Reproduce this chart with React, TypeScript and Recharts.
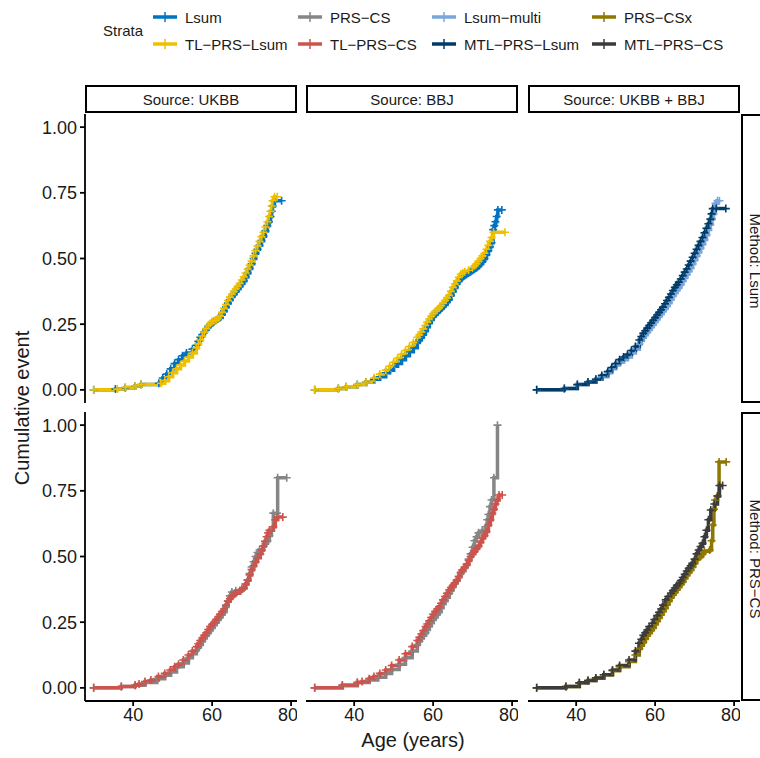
import { LineChart, Line, XAxis, YAxis } from 'recharts'

// ── Data (age in years, cumulative event) ──────────────────────

const ukbbLsum: [number, number][] = [
  [30, 0], [35.5, 0.003], [38, 0.008], [40.5, 0.015], [42, 0.02], [46.5, 0.025], [47.5, 0.045],
  [48.5, 0.06], [49.5, 0.08], [50.5, 0.1], [51.5, 0.115], [52.5, 0.13], [53.5, 0.14], [55, 0.155],
  [56, 0.17], [56.5, 0.185], [57, 0.2], [57.5, 0.21], [58, 0.22], [58.5, 0.23], [59, 0.24], [59.5, 0.248],
  [60, 0.255], [60.5, 0.26], [61, 0.265], [61.5, 0.27], [62, 0.275], [62.5, 0.288], [63, 0.3], [63.5, 0.315],
  [64, 0.33], [64.5, 0.343], [65, 0.355], [65.5, 0.365], [66, 0.375], [66.5, 0.385], [67, 0.395],
  [67.5, 0.405], [68, 0.415], [68.5, 0.43], [69, 0.445], [69.5, 0.462], [70, 0.48], [70.5, 0.5], [71, 0.52],
  [71.5, 0.535], [72, 0.55], [72.5, 0.568], [73, 0.585], [73.5, 0.605], [74, 0.625], [74.4, 0.64],
  [74.8, 0.66], [75.1, 0.68], [75.3, 0.7], [75.8, 0.72], [77.6, 0.72],
]
const ukbbTlLsum: [number, number][] = [
  [30, 0], [36, 0.003], [38, 0.01], [40.5, 0.015], [42, 0.02], [47, 0.025], [48, 0.035], [49, 0.05],
  [50, 0.065], [51, 0.08], [52, 0.095], [53, 0.11], [54, 0.125], [55, 0.14], [56, 0.16], [56.5, 0.175],
  [57, 0.19], [57.5, 0.205], [58, 0.22], [58.5, 0.233], [59, 0.245], [59.5, 0.253], [60, 0.26], [60.5, 0.263],
  [61, 0.265], [61.5, 0.272], [62, 0.28], [62.5, 0.295], [63, 0.31], [63.5, 0.325], [64, 0.34], [64.5, 0.353],
  [65, 0.365], [65.5, 0.375], [66, 0.385], [66.5, 0.395], [67, 0.405], [67.5, 0.418], [68, 0.43],
  [68.5, 0.445], [69, 0.46], [69.5, 0.475], [70, 0.49], [70.5, 0.51], [71, 0.53], [71.5, 0.548], [72, 0.565],
  [72.5, 0.583], [73, 0.6], [73.5, 0.62], [74, 0.64], [74.4, 0.66], [74.8, 0.68], [75.1, 0.7], [75.3, 0.72],
  [75.8, 0.735], [76.5, 0.735],
]
const bbjLsum: [number, number][] = [
  [30, 0], [36, 0.005], [38, 0.012], [40.8, 0.02], [43, 0.03], [45, 0.04], [46.5, 0.05], [48, 0.065],
  [49, 0.075], [50, 0.09], [51, 0.1], [52, 0.115], [53, 0.13], [54, 0.145], [55, 0.16], [56, 0.18],
  [56.5, 0.19], [57, 0.2], [57.5, 0.212], [58, 0.225], [58.5, 0.24], [59, 0.255], [59.5, 0.268], [60, 0.28],
  [60.5, 0.288], [61, 0.295], [61.5, 0.303], [62, 0.31], [62.5, 0.318], [63, 0.325], [63.5, 0.335],
  [64, 0.345], [64.5, 0.36], [65, 0.375], [65.5, 0.39], [66, 0.405], [66.5, 0.415], [67, 0.425],
  [67.5, 0.43], [68, 0.435], [68.5, 0.44], [69, 0.445], [69.5, 0.45], [70, 0.455], [70.5, 0.46],
  [71, 0.465], [71.5, 0.472], [72, 0.48], [72.5, 0.49], [73, 0.5], [73.5, 0.515], [74, 0.53], [74.4, 0.545],
  [74.8, 0.56], [75.2, 0.61], [75.5, 0.625], [75.8, 0.64], [76.1, 0.66], [76.4, 0.685], [77.4, 0.685],
]
const bbjTlLsum: [number, number][] = [
  [30, 0], [36, 0.005], [38, 0.012], [40.8, 0.02], [43, 0.03], [45, 0.045], [46.5, 0.06], [48, 0.075],
  [49, 0.09], [50, 0.105], [51, 0.12], [52, 0.135], [53, 0.15], [54, 0.165], [55, 0.18], [56, 0.2],
  [56.5, 0.21], [57, 0.22], [57.5, 0.232], [58, 0.245], [58.5, 0.258], [59, 0.27], [59.5, 0.28], [60, 0.29],
  [60.5, 0.298], [61, 0.305], [61.5, 0.312], [62, 0.32], [62.5, 0.33], [63, 0.34], [63.5, 0.35], [64, 0.36],
  [64.5, 0.375], [65, 0.39], [65.5, 0.403], [66, 0.415], [66.5, 0.428], [67, 0.44], [67.5, 0.445],
  [68, 0.45], [69, 0.455], [70, 0.465], [70.5, 0.472], [71, 0.48], [71.5, 0.49], [72, 0.5], [72.5, 0.51],
  [73, 0.52], [73.5, 0.535], [74, 0.55], [74.4, 0.565], [74.8, 0.58], [75.3, 0.6], [78.2, 0.6],
]
const bothLsumMulti: [number, number][] = [
  [30, 0], [37, 0.005], [40.3, 0.02], [43, 0.03], [45, 0.04], [46.5, 0.05], [48, 0.065], [49, 0.08],
  [50, 0.095], [51, 0.105], [52, 0.115], [53, 0.125], [54, 0.14], [55, 0.155], [56, 0.175], [56.5, 0.188],
  [57, 0.2], [57.5, 0.21], [58, 0.22], [58.5, 0.23], [59, 0.24], [59.5, 0.25], [60, 0.26], [60.5, 0.27],
  [61, 0.28], [61.5, 0.29], [62, 0.3], [62.5, 0.31], [63, 0.32], [63.5, 0.332], [64, 0.345], [64.5, 0.358],
  [65, 0.37], [65.5, 0.38], [66, 0.39], [66.5, 0.402], [67, 0.415], [67.5, 0.428], [68, 0.44],
  [68.5, 0.452], [69, 0.465], [69.5, 0.48], [70, 0.495], [70.5, 0.51], [71, 0.525], [71.5, 0.54],
  [72, 0.555], [72.5, 0.572], [73, 0.59], [73.5, 0.61], [74, 0.63], [74.4, 0.65], [74.8, 0.67],
  [75.1, 0.69], [75.3, 0.71], [75.8, 0.72], [76.3, 0.72],
]
const bothMtlLsum: [number, number][] = [
  [30, 0], [37, 0.005], [40.3, 0.02], [43, 0.03], [45, 0.04], [46.5, 0.055], [48, 0.07], [49, 0.085],
  [50, 0.1], [51, 0.115], [52, 0.125], [53, 0.135], [54, 0.15], [55, 0.165], [56, 0.19], [56.5, 0.203],
  [57, 0.215], [57.5, 0.225], [58, 0.235], [58.5, 0.245], [59, 0.255], [59.5, 0.265], [60, 0.275],
  [60.5, 0.285], [61, 0.295], [61.5, 0.305], [62, 0.315], [62.5, 0.328], [63, 0.34], [63.5, 0.352],
  [64, 0.365], [64.5, 0.378], [65, 0.39], [65.5, 0.4], [66, 0.41], [66.5, 0.422], [67, 0.435],
  [67.5, 0.448], [68, 0.46], [68.5, 0.475], [69, 0.49], [69.5, 0.505], [70, 0.52], [70.5, 0.535],
  [71, 0.55], [71.5, 0.565], [72, 0.58], [72.5, 0.598], [73, 0.615], [73.5, 0.632], [74, 0.65],
  [74.3, 0.67], [74.6, 0.69], [75.5, 0.69], [77.9, 0.69],
]
const ukbbPrsCs: [number, number][] = [
  [30, 0], [37, 0.005], [40.5, 0.01], [43, 0.02], [46, 0.035], [48, 0.048], [49.5, 0.06], [51, 0.08],
  [52.7, 0.095], [54, 0.115], [55, 0.13], [56, 0.145], [56.5, 0.155], [57, 0.165], [57.5, 0.178],
  [58, 0.19], [58.5, 0.2], [59, 0.21], [59.5, 0.22], [60, 0.23], [60.5, 0.24], [61, 0.25], [61.5, 0.26],
  [62, 0.27], [62.5, 0.28], [63, 0.29], [63.5, 0.31], [64, 0.33], [64.5, 0.35], [65, 0.365], [66, 0.37],
  [67, 0.37], [67.5, 0.375], [68, 0.38], [68.5, 0.395], [69, 0.41], [69.5, 0.435], [70, 0.46],
  [70.5, 0.48], [71, 0.5], [71.5, 0.515], [72, 0.525], [73, 0.54], [73.5, 0.55], [74, 0.56],
  [74.5, 0.58], [75, 0.6], [75.5, 0.665], [76.4, 0.665], [76.6, 0.8], [78.9, 0.8],
]
const ukbbTlPrsCs: [number, number][] = [
  [30, 0], [37, 0.005], [40.5, 0.01], [41.5, 0.015], [43, 0.024], [44.5, 0.03], [46.4, 0.043],
  [48, 0.055], [49.4, 0.068], [50.5, 0.08], [51.5, 0.09], [52.7, 0.106], [54, 0.125], [55, 0.14],
  [56.1, 0.157], [56.5, 0.168], [57, 0.18], [57.5, 0.19], [58, 0.2], [58.5, 0.21], [59, 0.222],
  [59.5, 0.233], [60, 0.242], [60.5, 0.25], [61, 0.26], [61.5, 0.27], [62, 0.28], [62.5, 0.29], [63, 0.3],
  [63.5, 0.315], [64, 0.33], [64.5, 0.34], [65, 0.35], [65.5, 0.355], [66, 0.36], [67, 0.37],
  [67.5, 0.375], [68, 0.38], [68.5, 0.395], [69, 0.41], [69.5, 0.43], [70, 0.45], [70.5, 0.465],
  [71, 0.48], [71.5, 0.495], [72.2, 0.51], [72.6, 0.525], [73, 0.54], [73.4, 0.558], [73.8, 0.575],
  [74.2, 0.59], [74.5, 0.6], [75.5, 0.613], [76, 0.64], [76.6, 0.65], [77.9, 0.65],
]
const bbjPrsCs: [number, number][] = [
  [30, 0], [37, 0.008], [40.8, 0.02], [43.8, 0.03], [46, 0.04], [48, 0.055], [49.5, 0.07], [51.4, 0.09],
  [53, 0.115], [54.7, 0.14], [56, 0.165], [56.5, 0.178], [57, 0.19], [57.5, 0.2], [58.1, 0.21],
  [58.5, 0.222], [59, 0.235], [59.5, 0.248], [60, 0.26], [60.5, 0.27], [61, 0.28], [61.5, 0.29],
  [62, 0.305], [62.5, 0.32], [63, 0.332], [63.5, 0.345], [64.1, 0.36], [64.5, 0.372], [65, 0.385],
  [65.5, 0.398], [66, 0.41], [66.5, 0.422], [67, 0.435], [67.4, 0.445], [68, 0.458], [68.5, 0.47],
  [69, 0.49], [69.5, 0.51], [70, 0.535], [70.5, 0.56], [71, 0.575], [71.5, 0.59], [72.5, 0.6],
  [73.3, 0.613], [73.7, 0.64], [74, 0.66], [74.4, 0.69], [74.8, 0.715], [75.4, 0.8], [76.3, 1.0],
]
const bbjTlPrsCs: [number, number][] = [
  [30, 0], [37, 0.011], [40.8, 0.02], [42, 0.024], [43.8, 0.035], [45, 0.043], [46.5, 0.055],
  [48, 0.068], [49.5, 0.085], [51.4, 0.106], [53, 0.13], [54.7, 0.157], [56, 0.18], [56.5, 0.192],
  [57, 0.205], [57.5, 0.218], [58.1, 0.233], [58.5, 0.243], [59, 0.255], [59.5, 0.268], [60, 0.28],
  [60.5, 0.29], [61, 0.3], [61.5, 0.309], [62, 0.322], [62.5, 0.335], [63, 0.348], [63.5, 0.36],
  [64.1, 0.373], [64.5, 0.382], [65, 0.39], [65.5, 0.4], [66, 0.41], [66.5, 0.425], [67, 0.44],
  [67.4, 0.449], [68, 0.46], [68.5, 0.47], [69, 0.485], [69.5, 0.5], [70, 0.51], [70.5, 0.52],
  [71, 0.53], [71.5, 0.54], [72, 0.555], [72.5, 0.57], [73, 0.58], [73.5, 0.595], [74, 0.62],
  [74.5, 0.64], [75, 0.664], [75.4, 0.68], [75.8, 0.7], [76.2, 0.715], [76.7, 0.734], [77.5, 0.734],
]
const bothPrsCsx: [number, number][] = [
  [30, 0], [37.4, 0.005], [40.8, 0.019], [43, 0.028], [45, 0.038], [47, 0.05], [49.2, 0.065], [51, 0.08],
  [53.4, 0.1], [55, 0.125], [56, 0.15], [56.5, 0.162], [57, 0.175], [57.5, 0.188], [58, 0.2], [58.5, 0.21],
  [59, 0.22], [59.5, 0.23], [60, 0.243], [60.5, 0.255], [61, 0.268], [61.5, 0.28], [62, 0.293],
  [62.5, 0.305], [63, 0.318], [63.5, 0.332], [64, 0.345], [64.5, 0.355], [65, 0.365], [65.5, 0.375],
  [66, 0.385], [66.5, 0.395], [67, 0.405], [67.5, 0.418], [68, 0.43], [68.5, 0.44], [69, 0.45],
  [69.5, 0.462], [70, 0.475], [70.5, 0.49], [71, 0.495], [71.5, 0.5], [72, 0.51], [72.5, 0.52],
  [73.8, 0.525], [74.3, 0.56], [74.6, 0.62], [74.9, 0.68], [75.2, 0.715], [75.8, 0.73], [76.2, 0.86], [78, 0.86],
]
const bothMtlPrsCs: [number, number][] = [
  [30, 0], [37.4, 0.005], [40.8, 0.019], [43, 0.028], [45, 0.038], [47, 0.05], [49.2, 0.068],
  [51, 0.085], [53.4, 0.106], [55, 0.14], [55.9, 0.17], [56.5, 0.185], [57, 0.2], [57.5, 0.21],
  [58, 0.22], [58.5, 0.233], [59.3, 0.246], [59.8, 0.26], [60.5, 0.275], [61, 0.288], [61.5, 0.3],
  [62, 0.315], [62.7, 0.335], [63.3, 0.348], [64, 0.36], [64.5, 0.37], [65, 0.38], [65.5, 0.39],
  [66.1, 0.398], [66.5, 0.408], [67, 0.42], [67.5, 0.432], [68, 0.445], [68.5, 0.455], [69, 0.465],
  [69.4, 0.474], [70, 0.49], [70.5, 0.51], [71, 0.525], [71.5, 0.538], [72, 0.55], [72.5, 0.575],
  [73, 0.6], [73.5, 0.64], [74.1, 0.677], [75, 0.7], [75.8, 0.73], [76.3, 0.77], [77.1, 0.77],
]

const SOURCES = ['Source: UKBB', 'Source: BBJ', 'Source: UKBB + BBJ']
const METHODS = ['Method: Lsum', 'Method: PRS\u2212CS']

const X_DOMAIN = [27.8, 81.5]
const X_TICKS = [40, 60, 80]
const Y_DOMAIN = [-0.05, 1.05]
const Y_TICKS = [0, 0.25, 0.5, 0.75, 1]

// legend order, filled by column (2 rows)
const STRATA = [
  { name: 'Lsum', color: '#0073C2' },
  { name: 'TL\u2212PRS\u2212Lsum', color: '#EFC000' },
  { name: 'PRS\u2212CS', color: '#868686' },
  { name: 'TL\u2212PRS\u2212CS', color: '#CD534C' },
  { name: 'Lsum\u2212multi', color: '#7AA6DC' },
  { name: 'MTL\u2212PRS\u2212Lsum', color: '#003C67' },
  { name: 'PRS\u2212CSx', color: '#8F7700' },
  { name: 'MTL\u2212PRS\u2212CS', color: '#3B3B3B' },
]
const colorOf = (i: number) => STRATA[i].color

// panels: [row][col] -> series drawn bottom to top
const PANELS = [
  [
    [{ data: ukbbLsum, c: 0 }, { data: ukbbTlLsum, c: 1 }],
    [{ data: bbjLsum, c: 0 }, { data: bbjTlLsum, c: 1 }],
    [{ data: bothLsumMulti, c: 4 }, { data: bothMtlLsum, c: 5 }],
  ],
  [
    [{ data: ukbbPrsCs, c: 2 }, { data: ukbbTlPrsCs, c: 3 }],
    [{ data: bbjPrsCs, c: 2 }, { data: bbjTlPrsCs, c: 3 }],
    [{ data: bothPrsCsx, c: 6 }, { data: bothMtlPrsCs, c: 7 }],
  ],
]

// ── Layout ─────────────────────────────────────────────────────

const FONT = '"Liberation Sans", Arial, Helvetica, sans-serif'
const INK = '#1a1a1a'
const COL_X = [85, 306, 528]
const ROW_Y = [114, 412]
const PLOT_W = 212
const PLOT_H = 289
const Y_AXIS_W = 60
const X_AXIS_H = 34

const axisStyle = {
  axisLine: { stroke: '#000', strokeWidth: 1.8 },
  tickLine: { stroke: '#000', strokeWidth: 1.8 },
  tickSize: 5,
}

function plusDot(color: string) {
  return (props: any) => {
    const { cx, cy, index } = props
    if (cx == null || cy == null) return <g key={index} />
    return (
      <path key={index} d={`M${cx - 4},${cy}H${cx + 4}M${cx},${cy - 4}V${cy + 4}`}
        stroke={color} strokeWidth={1.6} fill="none" />
    )
  }
}

function Panel({ row, col }: { row: number; col: number }) {
  const showY = col === 0
  const showX = row === 1
  const w = PLOT_W + (showY ? Y_AXIS_W : 0)
  const h = PLOT_H + (showX ? X_AXIS_H : 0)
  const series = PANELS[row][col]
  return (
    <div style={{ position: 'absolute', left: COL_X[col] - (showY ? Y_AXIS_W : 0), top: ROW_Y[row] }}>
      <LineChart width={w} height={h} margin={{ top: 0, right: 0, bottom: 0, left: 0 }}>
        <XAxis type="number" dataKey="age" domain={X_DOMAIN} ticks={X_TICKS} allowDataOverflow
          hide={!showX} height={X_AXIS_H} {...axisStyle} tickMargin={2}
          tick={{ fill: INK, fontSize: 18, fontFamily: FONT }} />
        <YAxis type="number" domain={Y_DOMAIN} ticks={Y_TICKS} allowDataOverflow
          hide={!showY} width={Y_AXIS_W} {...axisStyle} tickMargin={3}
          tickFormatter={(v: number) => v.toFixed(2)}
          tick={{ fill: INK, fontSize: 18, fontFamily: FONT }} />
        {series.map((s, i) => (
          <Line key={i} data={s.data.map(([age, v]) => ({ age, v }))} dataKey="v"
            type="stepAfter" stroke={colorOf(s.c)} strokeWidth={3.5}
            dot={plusDot(colorOf(s.c))} activeDot={false} isAnimationActive={false} />
        ))}
      </LineChart>
    </div>
  )
}

function LegendKey({ color }: { color: string }) {
  return (
    <svg width={24} height={12} style={{ display: 'block' }}>
      <line x1={0} y1={6} x2={24} y2={6} stroke={color} strokeWidth={3.5} />
      <line x1={12} y1={1} x2={12} y2={11} stroke={color} strokeWidth={1.5} />
    </svg>
  )
}

const LEGEND_COL_X = [153, 298, 432, 592]
const LEGEND_ROW_Y = [17, 44]

export default function App() {
  return (
    <div style={{
      position: 'absolute', left: 0, top: 0, width: 760, height: 758, overflow: 'hidden',
      background: '#fff', fontFamily: FONT, color: INK,
    }}>
      {/* Legend */}
      <div style={{ position: 'absolute', left: 103, top: 22, fontSize: 15 }}>Strata</div>
      {STRATA.map((s, i) => {
        const c = Math.floor(i / 2)
        const r = i % 2
        return (
          <div key={s.name} style={{
            position: 'absolute', left: LEGEND_COL_X[c], top: LEGEND_ROW_Y[r] - 10,
            height: 20, display: 'flex', alignItems: 'center', gap: 8, fontSize: 15, whiteSpace: 'nowrap',
          }}>
            <LegendKey color={s.color} />
            <span>{s.name}</span>
          </div>
        )
      })}

      {/* Top strips */}
      {SOURCES.map((label, c) => (
        <div key={label} style={{
          position: 'absolute', left: COL_X[c], top: 85, width: PLOT_W, height: 28,
          boxSizing: 'border-box', border: '2px solid #000', display: 'flex',
          alignItems: 'center', justifyContent: 'center', fontSize: 15,
        }}>{label}</div>
      ))}

      {/* Right strips (cut by the page edge, as in the original) */}
      {METHODS.map((label, r) => (
        <div key={label} style={{
          position: 'absolute', left: 741, top: ROW_Y[r], width: 30, height: PLOT_H,
          boxSizing: 'border-box', border: '2px solid #000',
        }}>
          <div style={{
            position: 'absolute', left: 12, top: PLOT_H / 2, transform: 'translate(-50%, -50%) rotate(90deg)',
            whiteSpace: 'nowrap', fontSize: 15,
          }}>{label}</div>
        </div>
      ))}

      {PANELS.map((rowPanels, r) => rowPanels.map((_, c) => <Panel key={`${r}-${c}`} row={r} col={c} />))}

      {/* Axis titles */}
      <div style={{
        position: 'absolute', left: 22, top: 408, transform: 'translate(-50%, -50%) rotate(-90deg)',
        whiteSpace: 'nowrap', fontSize: 20,
      }}>Cumulative event</div>
      <div style={{
        position: 'absolute', left: 413, top: 740, transform: 'translate(-50%, -50%)',
        whiteSpace: 'nowrap', fontSize: 20,
      }}>Age (years)</div>
    </div>
  )
}
